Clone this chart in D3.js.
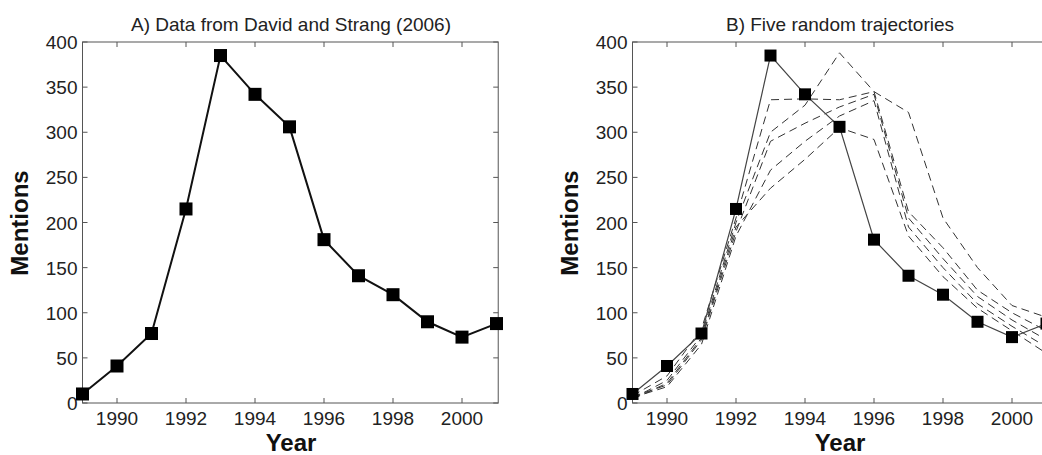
<!DOCTYPE html>
<html>
<head>
<meta charset="utf-8">
<script src="https://cdn.jsdelivr.net/npm/d3@7"></script>
<style>
  body { margin: 0; background: #fff; }
  svg { display: block; font-family: "Liberation Sans", Arial, sans-serif; }
</style>
</head>
<body>
<svg id="chart" width="1042" height="455"></svg>
<script>
// data
const years = [1989, 1990, 1991, 1992, 1993, 1994, 1995, 1996, 1997, 1998, 1999, 2000, 2001];
const mentions = [10, 41, 77, 215, 385, 342, 306, 181, 141, 120, 90, 73, 88];

// five simulated trajectories (panel B, dashed)
const traj1 = [8, 30, 82, 205, 336, 337, 336, 345, 322, 205, 150, 108, 95];
const traj2 = [5, 25, 75, 200, 300, 330, 388, 345, 212, 172, 125, 100, 80];
const traj3 = [7, 20, 70, 190, 290, 310, 328, 342, 205, 160, 118, 92, 70];
const traj4 = [6, 18, 65, 185, 258, 290, 318, 335, 195, 150, 110, 85, 62];
const traj5 = [4, 22, 72, 195, 238, 270, 305, 292, 185, 140, 105, 80, 55];
const trajectories = [traj1, traj2, traj3, traj4, traj5];

const xTicks = [1990, 1992, 1994, 1996, 1998, 2000];
const yTicks = [0, 50, 100, 150, 200, 250, 300, 350, 400];

const svg = d3.select("#chart");

function panel(opts) {
  const g = svg.append("g");
  const x = d3.scaleLinear().domain([1989, 2001.05]).range([opts.left, opts.left + 12.05 * 34.5]);
  const y = d3.scaleLinear().domain([0, 400]).range([403, 42]);
  const x0 = x.range()[0], x1 = x.range()[1];
  const y0 = y.range()[0], y1 = y.range()[1];
  const tick = 5;

  // box
  g.append("rect")
    .attr("x", x0).attr("y", y1)
    .attr("width", x1 - x0).attr("height", y0 - y1)
    .attr("fill", "none").attr("stroke", "#555").attr("stroke-width", 1);

  // inward ticks, all four sides
  xTicks.forEach(t => {
    g.append("line").attr("x1", x(t)).attr("x2", x(t)).attr("y1", y0).attr("y2", y0 - tick).attr("stroke", "#555");
    g.append("line").attr("x1", x(t)).attr("x2", x(t)).attr("y1", y1).attr("y2", y1 + tick).attr("stroke", "#555");
  });
  yTicks.forEach(t => {
    g.append("line").attr("x1", x0).attr("x2", x0 + tick).attr("y1", y(t)).attr("y2", y(t)).attr("stroke", "#555");
    g.append("line").attr("x1", x1).attr("x2", x1 - tick).attr("y1", y(t)).attr("y2", y(t)).attr("stroke", "#555");
  });

  g.selectAll(".xl").data(xTicks).enter().append("text")
    .attr("x", d => x(d)).attr("y", 425)
    .attr("text-anchor", "middle").attr("font-size", "19px").attr("fill", "#222")
    .text(d => d);
  g.selectAll(".yl").data(yTicks).enter().append("text")
    .attr("x", x0 - 5).attr("y", d => y(d) + 7)
    .attr("text-anchor", "end").attr("font-size", "19px").attr("fill", "#222")
    .text(d => d);

  g.append("text")
    .attr("x", opts.titleX).attr("y", 31)
    .attr("text-anchor", "middle").attr("font-size", "19px").attr("fill", "#222")
    .text(opts.title);
  g.append("text")
    .attr("x", opts.titleX).attr("y", 451)
    .attr("text-anchor", "middle").attr("font-size", "24px").attr("font-weight", "bold").attr("fill", "#111")
    .text("Year");
  g.append("text")
    .attr("transform", `translate(${opts.left - 55},223) rotate(-90)`)
    .attr("text-anchor", "middle").attr("font-size", "24px").attr("font-weight", "bold").attr("fill", "#111")
    .text("Mentions");

  const line = d3.line().x((d, i) => x(years[i])).y(d => y(d));

  if (opts.dashed) {
    g.selectAll(".traj").data(trajectories).enter().append("path")
      .attr("d", line)
      .attr("fill", "none").attr("stroke", "#333").attr("stroke-width", 1)
      .attr("stroke-dasharray", "8 5");
  }

  g.append("path").datum(mentions)
    .attr("d", line)
    .attr("fill", "none").attr("stroke", opts.dashed ? "#444" : "#111")
    .attr("stroke-width", opts.dashed ? 1.2 : 2);

  const s = opts.marker;
  g.selectAll(".mk").data(mentions).enter().append("rect")
    .attr("x", (d, i) => x(years[i]) - s / 2)
    .attr("y", d => y(d) - s / 2)
    .attr("width", s).attr("height", s)
    .attr("fill", "#000");
}

panel({ left: 82.5, title: "A) Data from David and Strang (2006)", titleX: 291, dashed: false, marker: 13 });
panel({ left: 632.5, title: "B) Five random trajectories", titleX: 840, dashed: true, marker: 12 });
</script>
</body>
</html>
